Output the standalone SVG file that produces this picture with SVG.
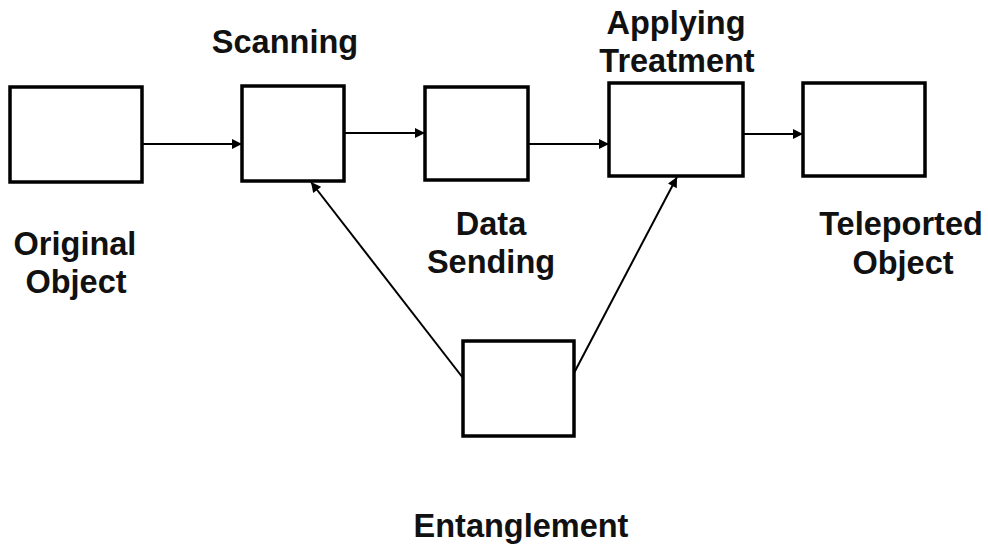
<svg xmlns="http://www.w3.org/2000/svg" width="988" height="549" viewBox="0 0 988 549">
  <defs>
    <marker id="arrow" viewBox="0 0 10 10" refX="10" refY="5" markerWidth="11" markerHeight="10" markerUnits="userSpaceOnUse" orient="auto">
      <path d="M0,0 L10,5 L0,10 Z" fill="#000"/>
    </marker>
    <style>
      .box { fill: #fff; stroke: #000; stroke-width: 3.5; }
      .link { fill: none; stroke: #000; stroke-width: 2; marker-end: url(#arrow); }
      .label { font-family: "Liberation Sans", Arial, sans-serif; font-weight: bold; font-size: 32.5px; fill: #111; text-anchor: middle; }
    </style>
  </defs>
  <rect width="988" height="549" fill="#fff"/>

  <g id="connectors">
    <line class="link" x1="143" y1="144" x2="242" y2="144"/>
    <line class="link" x1="344" y1="133" x2="425" y2="133"/>
    <line class="link" x1="528" y1="144" x2="609" y2="144"/>
    <line class="link" x1="743" y1="134" x2="803" y2="134"/>
    <line class="link" x1="463" y1="378" x2="311" y2="182"/>
    <line class="link" x1="574" y1="373" x2="677" y2="177"/>
  </g>

  <g id="original-object">
    <rect class="box" x="10" y="87" width="132" height="95"/>
    <text class="label" x="75" y="255">Original</text>
    <text class="label" x="76" y="293">Object</text>
  </g>

  <g id="scanning">
    <rect class="box" x="242" y="86" width="102" height="95"/>
    <text class="label" x="285" y="53">Scanning</text>
  </g>

  <g id="data-sending">
    <rect class="box" x="425" y="87" width="103" height="93"/>
    <text class="label" x="491" y="235">Data</text>
    <text class="label" x="491" y="273">Sending</text>
  </g>

  <g id="applying-treatment">
    <rect class="box" x="609" y="83" width="134" height="93"/>
    <text class="label" x="676" y="34">Applying</text>
    <text class="label" x="677" y="72">Treatment</text>
  </g>

  <g id="teleported-object">
    <rect class="box" x="803" y="83" width="122" height="93"/>
    <text class="label" x="901" y="235">Teleported</text>
    <text class="label" x="903" y="274">Object</text>
  </g>

  <g id="entanglement">
    <rect class="box" x="463" y="341" width="111" height="95"/>
    <text class="label" x="521" y="537">Entanglement</text>
  </g>
</svg>
